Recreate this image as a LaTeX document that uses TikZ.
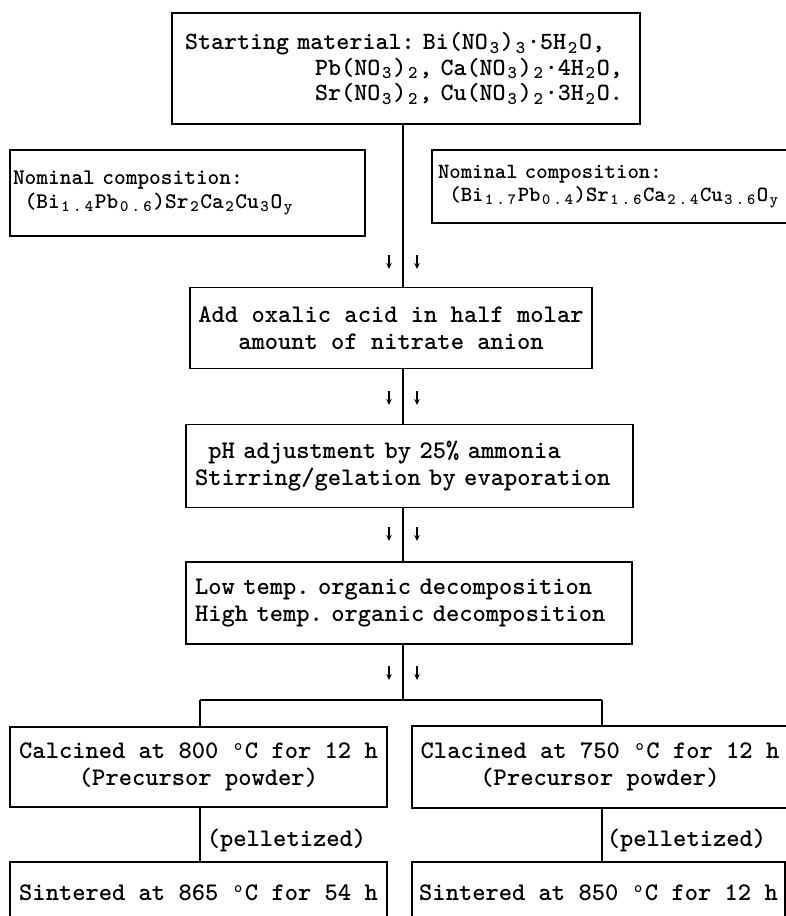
\documentclass[tikz,border=0pt]{standalone}
\usepackage{graphicx}
\usetikzlibrary{arrows.meta}
\newcommand\dn[1]{\makebox[0.525em][c]{\raisebox{-0.35ex}{\scalebox{0.72}{#1}}}}
\newcommand\dg{\makebox[0.525em][c]{\raisebox{0.75ex}{\scalebox{0.62}{o}}}}
\newcommand\tw[2]{\ttfamily\bfseries\fontsize{#1}{#2}\selectfont\frenchspacing\spaceskip=0.525em\relax}
\tikzset{
  box/.style={draw, line width=1.5pt, inner sep=0pt, align=center},
  ln/.style={line width=1.5pt},
  darr/.style={line width=1.1pt, -{Stealth[length=6pt,width=5.5pt]}},
  mainf/.style={font=\tw{25.3}{27}},
  topf/.style={font=\tw{24.8}{25.5}},
  nomf/.style={font=\tw{22.3}{24}},
  nomrf/.style={font=\tw{21.7}{23.5}}
}
\begin{document}
\begin{tikzpicture}[x=1pt,y=-1pt]
\useasboundingbox (0,0) rectangle (786,916);
\clip (0,0) rectangle (786,916);
\fill[white] (0,0) rectangle (786,916);

% top box
\node[box, topf, minimum width=468pt, minimum height=111pt, text width=442pt, align=left] (top) at (406,68.5)
 {Starting material: Bi(NO\dn3)\dn3·5H\dn2O,\\
  \hspace*{5.25em}Pb(NO\dn3)\dn2, Ca(NO\dn3)\dn2·4H\dn2O,\\
  \hspace*{5.25em}Sr(NO\dn3)\dn2, Cu(NO\dn3)\dn2·3H\dn2O.};

% nominal boxes
\node[box, nomf, minimum width=355pt, minimum height=86pt, text width=349pt, align=left] (nomL) at (187.5,193)
 {Nominal composition:\\
  \hspace*{0.525em}(Bi\dn1\dn.\dn4Pb\dn0\dn.\dn6)Sr\dn2Ca\dn2Cu\dn3O\dn{y}};
\node[box, nomrf, minimum width=400pt, minimum height=73pt, text width=388pt, align=left] (nomR) at (632,186.5)
 {Nominal composition:\\
  \hspace*{0.525em}(Bi\dn1\dn.\dn7Pb\dn0\dn.\dn4)Sr\dn1\dn.\dn6Ca\dn2\dn.\dn4Cu\dn3\dn.\dn6O\dn{y}};

% main chain
\node[box, mainf, minimum width=402pt, minimum height=81pt] (add) at (391,328)
 {Add oxalic acid in half molar\\amount of nitrate anion};
\node[box, mainf, minimum width=447pt, minimum height=83pt, text width=429pt, align=left] (ph) at (409.5,466)
 {\hspace*{0.525em}pH adjustment by 25\% ammonia\\Stirring/gelation by evaporation};
\node[box, mainf, minimum width=446pt, minimum height=82pt, text width=428pt, align=left] (low) at (409,603)
 {Low temp. organic decomposition\\High temp. organic decomposition};

% branches
\node[box, mainf, minimum width=377pt, minimum height=80pt] (calc) at (198.5,767)
 {Calcined at 800 \dg C for 12 h\\(Precursor powder)};
\node[box, mainf, minimum width=376pt, minimum height=82pt] (clac) at (600,767)
 {Clacined at 750 \dg C for 12 h\\(Precursor powder)};
\node[box, mainf, minimum width=377pt, minimum height=62pt] (sintL) at (198.5,893)
 {Sintered at 865 \dg C for 54 h};
\node[box, mainf, minimum width=373pt, minimum height=62pt] (sintR) at (598.5,893)
 {Sintered at 850 \dg C for 12 h};
\node[mainf, inner sep=0pt] (pelL) at (286.5,840) {(pelletized)};
\node[mainf, inner sep=0pt] (pelR) at (686.5,840) {(pelletized)};

% connectors
\coordinate (sp) at (403,0);
\coordinate (br) at (403,700);
\coordinate (bl) at (200,700);
\coordinate (brr) at (602,700);
\draw[ln] (top.south -| sp) -- (add.north -| sp);
\draw[ln] (add.south -| sp) -- (ph.north -| sp);
\draw[ln] (ph.south -| sp) -- (low.north -| sp);
\draw[ln] (low.south -| sp) -- (br);
\draw[ln] (bl) -- (brr);
\draw[ln] (bl) -- (calc.north -| bl);
\draw[ln] (brr) -- (clac.north -| brr);
\draw[ln] (calc.south -| bl) -- (sintL.north -| bl);
\draw[ln] (clac.south -| brr) -- (sintR.north -| brr);

% small arrow marks
\foreach \yy in {262,398,534,673} {
  \draw[darr] (389,\yy-7) -- (389,\yy+7);
  \draw[darr] (417,\yy-7) -- (417,\yy+7);
}
\end{tikzpicture}
\end{document}
